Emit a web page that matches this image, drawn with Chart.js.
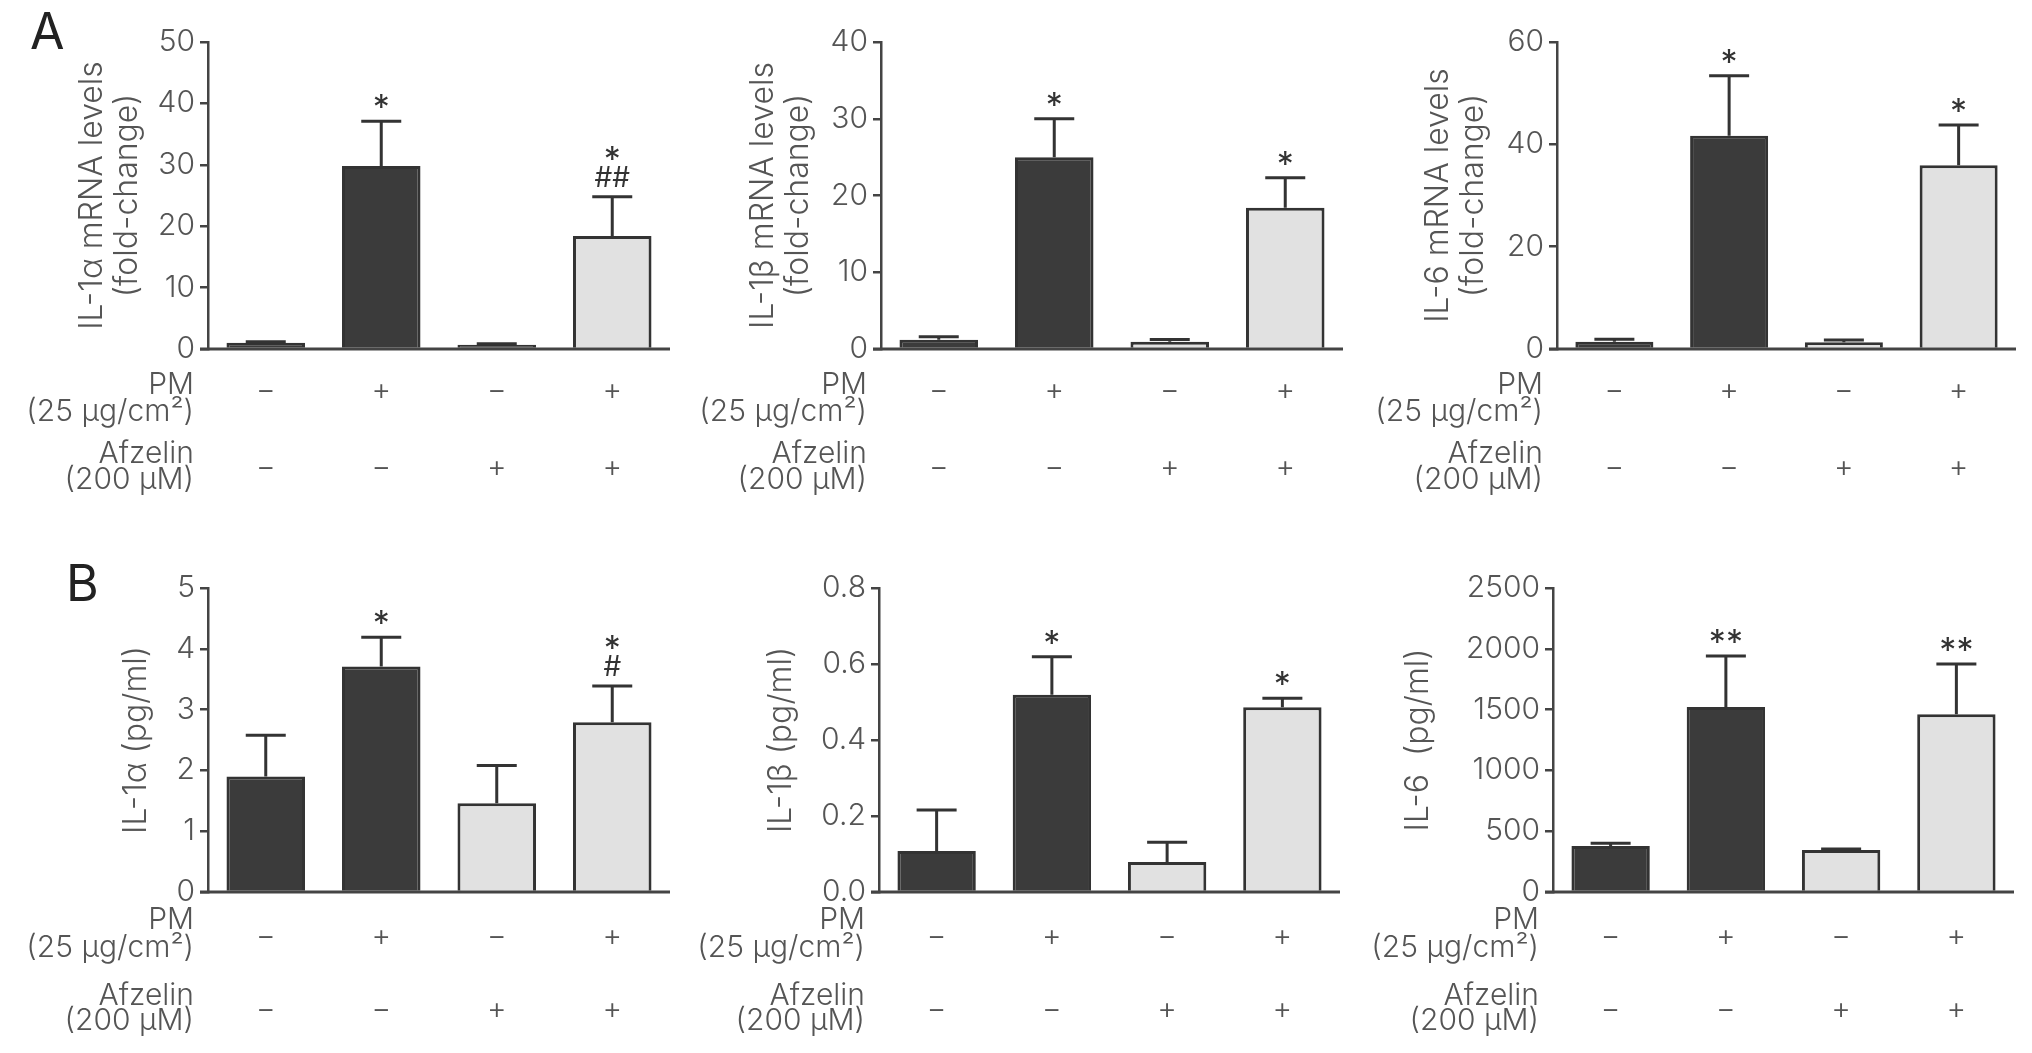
<!DOCTYPE html>
<html lang="en">
<head>
    <meta charset="UTF-8">
    <title>PM and Afzelin - cytokine levels</title>
    <script src="https://cdn.jsdelivr.net/npm/chart.js"></script>
    <style>
        body {
            margin: 0;
            background: #ffffff;
            width: 2032px;
            height: 1053px;
            position: relative;
            overflow: hidden;
            font-family: Inter, "Liberation Sans", Arial, sans-serif;
        }

        canvas {
            position: absolute;
        }

        .panel-letter {
            position: absolute;
            font-size: 50px;
            line-height: 1;
            color: #222;
            font-weight: 400;
        }
    </style>
</head>
<body>
    <div class="panel-letter" style="left: 30px; top: 6px;">A</div>
    <div class="panel-letter" style="left: 66px; top: 558px;">B</div>

    <canvas id="a1"></canvas>
    <canvas id="a2"></canvas>
    <canvas id="a3"></canvas>
    <canvas id="b1"></canvas>
    <canvas id="b2"></canvas>
    <canvas id="b3"></canvas>

    <script>
        // treatment groups (one bar each) and the +/- rows under the axis
        const groups = ["Control", "PM", "Afzelin", "PM + Afzelin"];
        const pmSigns = ["\u2212", "+", "\u2212", "+"];
        const afzelinSigns = ["\u2212", "\u2212", "+", "+"];

        // A: mRNA levels (fold-change), mean and SD
        const il1aMrnaMean = [1.0, 29.8, 0.7, 18.4];
        const il1aMrnaSd = [0.2, 7.3, 0.15, 6.4];
        const il1bMrnaMean = [1.2, 25.0, 0.95, 18.4];
        const il1bMrnaSd = [0.4, 5.0, 0.3, 3.9];
        const il6MrnaMean = [1.4, 41.7, 1.3, 35.9];
        const il6MrnaSd = [0.5, 11.7, 0.45, 7.9];

        // B: secreted protein (pg/ml), mean and SD
        const il1aProtMean = [1.9, 3.71, 1.46, 2.79];
        const il1aProtSd = [0.68, 0.48, 0.62, 0.6];
        const il1bProtMean = [0.108, 0.519, 0.079, 0.486];
        const il1bProtSd = [0.108, 0.1, 0.052, 0.024];
        const il6ProtMean = [379, 1521, 346, 1461];
        const il6ProtSd = [22, 420, 8, 415];

        // significance marks above each bar, top line first
        const il1aMrnaMarks = [[], ["*"], [], ["*", "##"]];
        const il1bMrnaMarks = [[], ["*"], [], ["*"]];
        const il6MrnaMarks = [[], ["*"], [], ["*"]];
        const il1aProtMarks = [[], ["*"], [], ["*", "#"]];
        const il1bProtMarks = [[], ["*"], [], ["*"]];
        const il6ProtMarks = [[], ["**"], [], ["**"]];

        const DARK = "#3b3b3b";
        const LIGHT = "#e1e1e1";
        const INK = "#333";
        const TEXT = "#555";
        const FONT = "Inter, 'Liberation Sans', Arial, sans-serif";

        Chart.defaults.font.family = FONT;
        Chart.defaults.font.weight = "300";

        const Y_AXIS_W = 200;
        const PAD_TOP = 30;
        const PAD_BOTTOM = 150;
        const PAD_RIGHT = 12;
        const TITLE_SIZE = 32;
        const TITLE_LH = 1.1;

        // rows of text under the x axis, offsets from the zero line
        const rowA = { pm: 34, pmSign: 42, pmSub: 63, af: 102, afSign: 119, afSub: 130 };
        const rowB = { pm: 26, pmSign: 45, pmSub: 56, af: 101, afSign: 118, afSub: 128 };

        function drawCentered(ctx, text, x, cy) {
            const m = ctx.measureText(text);
            ctx.fillText(text, x, cy + (m.actualBoundingBoxAscent - m.actualBoundingBoxDescent) / 2);
        }

        const extras = {
            id: "extras",
            afterDatasetsDraw(chart, args, opts) {
                const { ctx, chartArea, scales: { y } } = chart;
                const bars = chart.getDatasetMeta(0).data;
                const zero = y.getPixelForValue(0);

                ctx.save();

                // error bars (upper half only)
                ctx.strokeStyle = INK;
                ctx.lineWidth = 3;
                opts.means.forEach((m, i) => {
                    const bx = bars[i].x;
                    const yb = y.getPixelForValue(m);
                    const yt = y.getPixelForValue(m + opts.sd[i]);
                    ctx.beginPath();
                    ctx.moveTo(bx, yb);
                    ctx.lineTo(bx, yt);
                    ctx.moveTo(bx - 20, yt);
                    ctx.lineTo(bx + 20, yt);
                    ctx.stroke();

                    // marks above the cap
                    ctx.fillStyle = INK;
                    ctx.textAlign = "center";
                    const lines = opts.marks[i];
                    lines.forEach((t, k) => {
                        const fromBottom = lines.length - 1 - k;
                        ctx.font = t.includes("#") ? "400 28px " + FONT : "400 34px " + FONT;
                        drawCentered(ctx, t, bx, yt - 20 - fromBottom * 24);
                    });
                });

                // x axis line, running a little left of the y axis
                ctx.strokeStyle = "#444";
                ctx.lineWidth = 3;
                ctx.beginPath();
                ctx.moveTo(chartArea.left - 8, zero);
                ctx.lineTo(chartArea.right, zero);
                ctx.stroke();

                // treatment rows
                const r = opts.rows;
                ctx.fillStyle = TEXT;
                ctx.font = "300 30px " + FONT;
                ctx.textAlign = "right";
                const lx = chartArea.left - 14;
                drawCentered(ctx, "PM", lx, zero + r.pm);
                drawCentered(ctx, "(25 \u00b5g/cm\u00b2)", lx, zero + r.pmSub);
                drawCentered(ctx, "Afzelin", lx, zero + r.af);
                drawCentered(ctx, "(200 \u00b5M)", lx, zero + r.afSub);

                ctx.textAlign = "center";
                ctx.font = "300 30px " + FONT;
                bars.forEach((b, i) => {
                    drawCentered(ctx, pmSigns[i], b.x, zero + r.pmSign);
                    drawCentered(ctx, afzelinSigns[i], b.x, zero + r.afSign);
                });

                ctx.restore();
            }
        };

        function makeChart(id, cfg) {
            const canvas = document.getElementById(id);
            const w = cfg.right - cfg.axisX + Y_AXIS_W + PAD_RIGHT;
            const h = cfg.zeroY - cfg.topY + PAD_TOP + PAD_BOTTOM;
            canvas.width = w;
            canvas.height = h;
            canvas.style.left = (cfg.axisX - Y_AXIS_W) + "px";
            canvas.style.top = (cfg.topY - PAD_TOP) + "px";

            new Chart(canvas.getContext("2d"), {
                type: "bar",
                data: {
                    labels: groups,
                    datasets: [{
                        data: cfg.means,
                        backgroundColor: cfg.fills,
                        borderColor: INK,
                        borderWidth: 3,
                        categoryPercentage: 1,
                        barPercentage: 0.68
                    }]
                },
                options: {
                    responsive: false,
                    animation: false,
                    events: [],
                    layout: {
                        padding: { top: PAD_TOP, right: PAD_RIGHT, bottom: PAD_BOTTOM, left: 0 }
                    },
                    plugins: {
                        legend: { display: false },
                        tooltip: { enabled: false },
                        extras: {
                            means: cfg.means,
                            sd: cfg.sd,
                            marks: cfg.marks,
                            rows: cfg.rows
                        }
                    },
                    scales: {
                        x: { display: false },
                        y: {
                            min: 0,
                            max: cfg.max,
                            afterFit: s => { s.width = Y_AXIS_W; },
                            ticks: {
                                stepSize: cfg.step,
                                color: TEXT,
                                font: { size: 30 },
                                padding: 5,
                                callback: v => cfg.decimals ? v.toFixed(cfg.decimals) : v
                            },
                            grid: {
                                drawOnChartArea: false,
                                drawTicks: true,
                                tickLength: 8,
                                color: "#444",
                                lineWidth: 2.5
                            },
                            border: { display: true, color: "#444", width: 2.5 },
                            title: {
                                display: true,
                                text: cfg.title,
                                color: TEXT,
                                font: { size: TITLE_SIZE, lineHeight: TITLE_LH },
                                padding: { top: Y_AXIS_W - cfg.titleOffset - TITLE_SIZE * TITLE_LH / 2, bottom: 0 }
                            }
                        }
                    }
                },
                plugins: [extras]
            });
        }

        const twoDark = [DARK, DARK, LIGHT, LIGHT];

        makeChart("a1", {
            axisX: 208, right: 670, topY: 42, zeroY: 349,
            max: 50, step: 10, means: il1aMrnaMean, sd: il1aMrnaSd, marks: il1aMrnaMarks,
            fills: [DARK, DARK, DARK, LIGHT],
            title: ["IL-1\u03b1 mRNA levels", "(fold-change)"], titleOffset: 116, rows: rowA
        });
        makeChart("a2", {
            axisX: 881, right: 1343, topY: 42, zeroY: 349,
            max: 40, step: 10, means: il1bMrnaMean, sd: il1bMrnaSd, marks: il1bMrnaMarks,
            fills: twoDark,
            title: ["IL-1\u03b2 mRNA levels", "(fold-change)"], titleOffset: 118, rows: rowA
        });
        makeChart("a3", {
            axisX: 1557, right: 2016, topY: 42, zeroY: 349,
            max: 60, step: 20, means: il6MrnaMean, sd: il6MrnaSd, marks: il6MrnaMarks,
            fills: twoDark,
            title: ["IL-6 mRNA levels", "(fold-change)"], titleOffset: 119, rows: rowA
        });
        makeChart("b1", {
            axisX: 208, right: 670, topY: 588, zeroY: 892,
            max: 5, step: 1, means: il1aProtMean, sd: il1aProtSd, marks: il1aProtMarks,
            fills: twoDark,
            title: "IL-1\u03b1 (pg/ml)", titleOffset: 72, rows: rowB
        });
        makeChart("b2", {
            axisX: 879, right: 1340, topY: 588, zeroY: 892,
            max: 0.8, step: 0.2, decimals: 1, means: il1bProtMean, sd: il1bProtSd, marks: il1bProtMarks,
            fills: twoDark,
            title: "IL-1\u03b2 (pg/ml)", titleOffset: 98, rows: rowB
        });
        makeChart("b3", {
            axisX: 1553, right: 2014, topY: 588, zeroY: 892,
            max: 2500, step: 500, means: il6ProtMean, sd: il6ProtSd, marks: il6ProtMarks,
            fills: twoDark,
            title: "IL-6  (pg/ml)", titleOffset: 135, rows: rowB
        });
    </script>
</body>
</html>
